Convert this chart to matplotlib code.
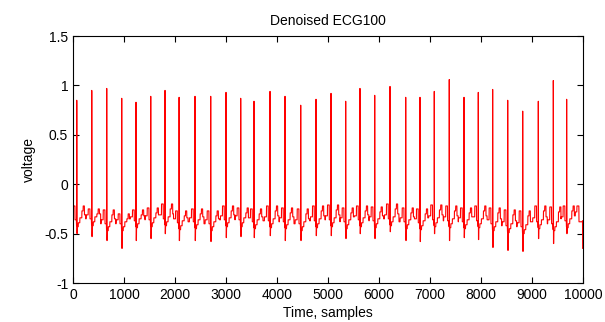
import matplotlib
matplotlib.use('Agg')
import matplotlib.pyplot as plt
import numpy as np

# R-peak sample positions
r_pos = [73, 367, 661, 955, 1235, 1524, 1804, 2080, 2392, 2700, 3000, 3288, 3549,
         3863, 4157, 4465, 4765, 5059, 5347, 5627, 5916, 6216, 6524, 6804, 7084,
         7378, 7667, 7947, 8229, 8524, 8818, 9124, 9418, 9680]
# R-peak heights
r_amp = [0.85, 0.95, 0.97, 0.87, 0.83, 0.89, 0.95, 0.88, 0.89, 0.89, 0.93, 0.87, 0.84,
         0.94, 0.89, 0.80, 0.86, 0.92, 0.84, 0.97, 0.90, 0.99, 0.88, 0.88, 0.94,
         1.06, 0.88, 0.93, 0.96, 0.85, 0.74, 0.84, 1.05, 0.86]
# second sample of the R wave (notched beats)
r2_amp = [0.80, 0.93, 0.20, 0.10, 0.15, 0.10, 0.20, 0.10, 0.07, 0.15, 0.78, 0.73, 0.10,
          0.15, 0.10, 0.23, 0.10, 0.15, 0.10, 0.20, 0.15, 0.20, 0.10, 0.19, 0.15,
          0.34, 0.10, 0.15, 0.43, 0.10, 0.35, 0.15, 0.95, 0.15]
# S-wave minimum after each beat
s_min = [-0.50, -0.53, -0.57, -0.65, -0.57, -0.55, -0.50, -0.57, -0.57, -0.58, -0.54, -0.53, -0.54,
         -0.52, -0.57, -0.57, -0.52, -0.52, -0.55, -0.50, -0.55, -0.48, -0.57, -0.58, -0.50,
         -0.57, -0.54, -0.56, -0.64, -0.67, -0.68, -0.55, -0.60, -0.50]
# isoelectric level around each beat
base = [-0.36, -0.35, -0.40, -0.40, -0.37, -0.36, -0.35, -0.39, -0.38, -0.40, -0.36, -0.36, -0.38,
        -0.37, -0.38, -0.40, -0.37, -0.36, -0.38, -0.36, -0.37, -0.35, -0.38, -0.39, -0.36,
        -0.37, -0.38, -0.37, -0.40, -0.42, -0.43, -0.38, -0.40, -0.37]
# highest level of the wave between beats
t_top = [-0.22, -0.25, -0.26, -0.30, -0.26, -0.24, -0.20, -0.27, -0.25, -0.27, -0.22, -0.24, -0.25,
         -0.22, -0.24, -0.25, -0.22, -0.21, -0.24, -0.22, -0.23, -0.20, -0.24, -0.25, -0.21,
         -0.22, -0.24, -0.22, -0.24, -0.26, -0.27, -0.22, -0.23, -0.22]
start_level = -0.14
end_level = -0.65
n_samples = 10000

# blocky beat template: (offset start, offset end, part, delta)
template = [(-110, -70, 'b', 0.04), (-70, -35, 't', 0.0), (-35, -6, 'b', 0.0),
            (-6, 0, 'b', -0.06), (2, 9, 's', 0.0), (9, 30, 'b', -0.07),
            (30, 60, 'b', -0.03), (60, 100, 'b', 0.02), (100, 125, 't', -0.05),
            (125, 150, 't', 0.0), (150, 175, 'b', 0.05)]

sig = np.zeros(n_samples)
edges = [0] + [(a + b) // 2 for a, b in zip(r_pos[:-1], r_pos[1:])] + [n_samples]
for i, p in enumerate(r_pos):
    sig[edges[i]:edges[i + 1]] = base[i]
for i, p in enumerate(r_pos):
    for a, b, part, d in template:
        lo, hi = max(p + a, 0), min(p + b, n_samples)
        if lo >= hi:
            continue
        if part == 'b':
            sig[lo:hi] = base[i] + d
        elif part == 't':
            sig[lo:hi] = t_top[i] + d
        else:
            sig[lo:hi] = s_min[i]
    sig[p] = r_amp[i]
    sig[p + 1] = r2_amp[i]
# tail after the last beat, then the final drop
sig[9850:9880] = -0.28
sig[9880:9920] = -0.22
sig[9920:9990] = -0.38
sig[:3] = start_level
sig[-8:] = end_level

plt.rcParams['font.family'] = ['Liberation Sans', 'DejaVu Sans']
fig = plt.figure(figsize=(6.05, 3.22), dpi=100)
ax = fig.add_axes([0.1207, 0.121, 0.8429, 0.767])
ax.plot(np.arange(n_samples), sig, color='red', linewidth=0.8)
ax.set_xlim(0, 10000)
ax.set_ylim(-1, 1.5)
ax.set_xticks(np.arange(0, 10001, 1000))
ax.set_yticks([-1, -0.5, 0, 0.5, 1, 1.5])
ax.set_yticklabels(['-1', '-0.5', '0', '0.5', '1', '1.5'])
ax.tick_params(direction='in', top=True, right=True, labelsize=10, length=4)
ax.set_title('Denoised ECG100', fontsize=10, pad=8)
ax.set_xlabel('Time, samples', fontsize=10, labelpad=3)
ax.set_ylabel('voltage', fontsize=10, labelpad=6)
fig.savefig('out.png', dpi=100)
